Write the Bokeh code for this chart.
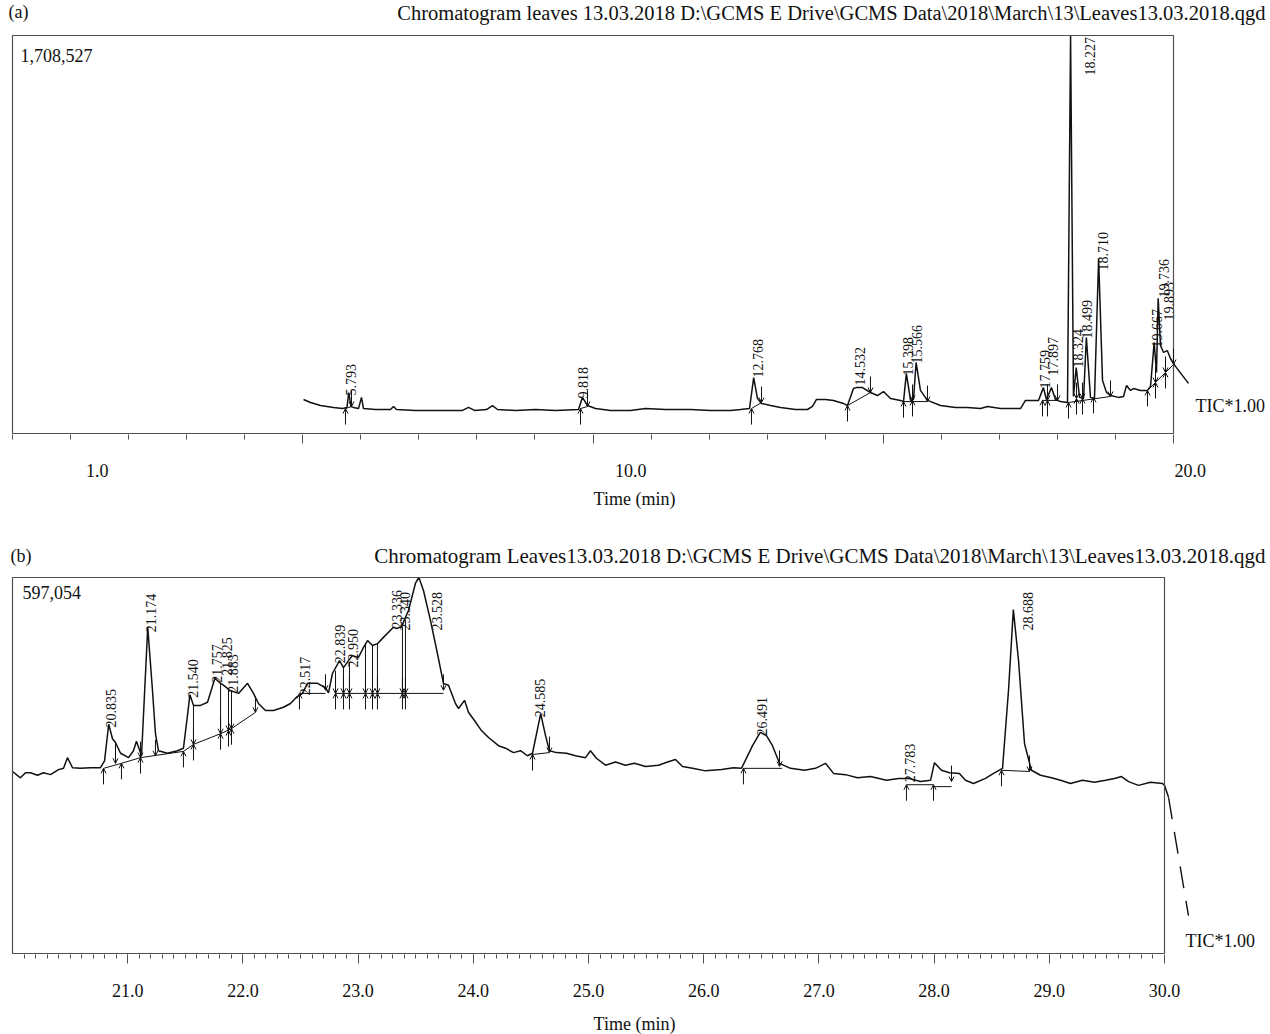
import math
from bokeh.plotting import figure
from bokeh.models import (ColumnDataSource, BoxAnnotation, Label, FixedTicker, LinearAxis,
                          Arrow, OpenHead, Range1d, PrintfTickFormatter, CustomJSTickFormatter)
from bokeh.layouts import column
from bokeh.embed import file_html
from bokeh.resources import INLINE
from bokeh.core.properties import value

# ---------------- Panel (a) data: time (min) / intensity (counts) ----------------
A_TITLE = r"Chromatogram leaves 13.03.2018 D:\GCMS E Drive\GCMS Data\2018\March\13\Leaves13.03.2018.qgd"
A_MAX = 1708527
A_X_END = 20.0
A_T = [5.013, 5.133, 5.306, 5.530, 5.685, 5.762, 5.793, 5.831, 5.874, 5.960,
       6.012, 6.046, 6.253, 6.512, 6.563, 6.615, 6.942, 7.373, 7.752, 7.855,
       7.959, 8.165, 8.269, 8.355, 8.665, 9.010, 9.354, 9.750, 9.818, 9.905,
       10.043, 10.302, 10.646, 10.904, 11.249, 11.680, 12.024, 12.369, 12.541, 12.696,
       12.768, 12.834, 12.903, 13.058, 13.230, 13.489, 13.695, 13.781, 13.850, 14.005,
       14.143, 14.315, 14.384, 14.487, 14.532, 14.642, 14.780, 14.901, 15.004, 15.125,
       15.297, 15.349, 15.398, 15.470, 15.521, 15.566, 15.641, 15.762, 15.986, 16.244,
       16.451, 16.675, 16.796, 17.020, 17.364, 17.450, 17.674, 17.759, 17.812, 17.897,
       17.967, 18.053, 18.174, 18.227, 18.277, 18.324, 18.381, 18.450, 18.499, 18.570,
       18.639, 18.710, 18.777, 18.846, 18.915, 19.053, 19.139, 19.191, 19.260, 19.311,
       19.432, 19.552, 19.604, 19.667, 19.707, 19.736, 19.776, 19.828, 19.893, 19.948,
       20.034, 20.258]
A_I = [146000, 133000, 120000, 112000, 107000, 112000, 176000, 116000, 112000, 107000,
       155000, 107000, 103000, 103000, 116000, 103000, 99000, 99000, 99000, 112000,
       99000, 103000, 120000, 103000, 99000, 103000, 99000, 103000, 155000, 120000,
       107000, 99000, 99000, 107000, 103000, 103000, 99000, 99000, 103000, 107000,
       240000, 150000, 129000, 120000, 112000, 103000, 103000, 116000, 146000, 146000,
       142000, 129000, 120000, 193000, 197000, 197000, 176000, 163000, 180000, 150000,
       142000, 137000, 258000, 142000, 146000, 305000, 185000, 142000, 120000, 112000,
       112000, 107000, 116000, 107000, 107000, 142000, 142000, 197000, 146000, 197000,
       146000, 137000, 133000, 1708527, 159000, 283000, 155000, 150000, 412000, 155000,
       150000, 751000, 228000, 176000, 163000, 155000, 159000, 206000, 185000, 193000,
       185000, 185000, 202000, 391000, 262000, 580000, 378000, 348000, 356000, 322000,
       288000, 215000]
A_LAB = ["5.793", "9.818", "12.768", "14.532", "15.398", "15.566", "17.759", "17.897",
         "18.227", "18.324", "18.499", "18.710", "19.667", "19.736", "19.893"]
A_LAB_T = [5.830, 9.836, 12.834, 14.591, 15.418, 15.590, 17.780, 17.916,
           18.553, 18.363, 18.518, 18.777, 19.724, 19.828, 19.931]
A_LAB_I = [163000, 150000, 240000, 206000, 249000, 300000, 193000, 249000,
           1537000, 283000, 408000, 700000, 369000, 584000, 485000]
A_UP_T = [5.736, 9.785, 12.730, 14.384, 15.349, 15.504, 17.743, 17.829, 18.191, 18.329,
          18.432, 18.622, 19.552, 19.690, 19.862]
A_UP_I = [107000, 107000, 107000, 120000, 137000, 142000, 142000, 142000, 133000, 150000,
          150000, 155000, 185000, 219000, 262000]
A_DN_T = [5.840, 9.905, 12.903, 14.780, 15.504, 15.762, 17.829, 18.002, 18.329, 18.432,
          18.915, 19.690, 19.862, 20.000]
A_DN_I = [116000, 116000, 133000, 176000, 142000, 137000, 142000, 142000, 150000, 150000,
          159000, 219000, 262000, 296000]
A_BL_T0 = [5.736, 9.785, 12.730, 14.384, 15.349, 17.743, 18.191, 19.552]
A_BL_I0 = [107000, 107000, 107000, 120000, 137000, 142000, 133000, 185000]
A_BL_T1 = [5.840, 9.905, 12.903, 14.780, 15.762, 18.002, 18.915, 20.000]
A_BL_I1 = [116000, 116000, 133000, 176000, 137000, 142000, 159000, 296000]
A_MAJOR_TICKS = [5, 10, 15, 20]
A_MINOR_TICKS = [0, 1, 2, 3, 4, 6, 7, 8, 9, 11, 12, 13, 14, 16, 17, 18, 19]
A_TICK_LABEL_POS = [1.46, 10.65, 20.29]
A_TICK_LABELS = ["1.0", "10.0", "20.0"]

# ---------------- Panel (b) data ----------------
B_TITLE = r"Chromatogram Leaves13.03.2018 D:\GCMS E Drive\GCMS Data\2018\March\13\Leaves13.03.2018.qgd"
B_MAX = 597054
B_X_START = 20.0
B_X_END = 30.0
B_T = [20.000, 20.069, 20.113, 20.156, 20.217, 20.269, 20.330, 20.399, 20.443, 20.477,
       20.521, 20.590, 20.677, 20.764, 20.799, 20.835, 20.868, 20.894, 20.938, 21.007,
       21.050, 21.076, 21.120, 21.174, 21.215, 21.241, 21.267, 21.345, 21.432, 21.484,
       21.519, 21.540, 21.571, 21.632, 21.693, 21.757, 21.806, 21.825, 21.866, 21.883,
       21.962, 22.040, 22.092, 22.135, 22.196, 22.266, 22.352, 22.413, 22.465, 22.517,
       22.561, 22.648, 22.717, 22.743, 22.778, 22.839, 22.873, 22.917, 22.950, 23.003,
       23.047, 23.082, 23.125, 23.168, 23.220, 23.307, 23.336, 23.377, 23.438, 23.498,
       23.528, 23.568, 23.628, 23.689, 23.741, 23.785, 23.845, 23.872, 23.924, 23.958,
       24.010, 24.071, 24.132, 24.219, 24.280, 24.349, 24.410, 24.470, 24.514, 24.585,
       24.627, 24.661, 24.722, 24.809, 24.887, 24.974, 25.017, 25.069, 25.148, 25.234,
       25.321, 25.399, 25.495, 25.608, 25.686, 25.755, 25.816, 25.903, 26.016, 26.155,
       26.259, 26.328, 26.424, 26.491, 26.545, 26.597, 26.658, 26.753, 26.875, 26.970,
       27.057, 27.127, 27.231, 27.335, 27.448, 27.587, 27.691, 27.783, 27.882, 27.969,
       28.003, 28.064, 28.134, 28.220, 28.272, 28.342, 28.446, 28.516, 28.594, 28.646,
       28.688, 28.733, 28.785, 28.845, 28.924, 29.019, 29.097, 29.184, 29.288, 29.392,
       29.488, 29.566, 29.627, 29.688, 29.774, 29.878, 29.983, 30.000, 30.035]
B_I = [289000, 279000, 287000, 287000, 283000, 287000, 284000, 292000, 294000, 311000,
       295000, 294000, 295000, 295000, 306000, 364000, 341000, 335000, 318000, 311000,
       322000, 337000, 314000, 518000, 418000, 349000, 322000, 318000, 322000, 326000,
       378000, 411000, 394000, 394000, 399000, 437000, 429000, 427000, 421000, 418000,
       413000, 429000, 413000, 397000, 386000, 386000, 391000, 397000, 407000, 413000,
       429000, 429000, 422000, 414000, 445000, 465000, 454000, 465000, 473000, 470000,
       486000, 497000, 489000, 492000, 502000, 518000, 516000, 519000, 545000, 588000,
       597054, 576000, 529000, 476000, 429000, 426000, 397000, 389000, 402000, 383000,
       370000, 354000, 343000, 330000, 326000, 319000, 322000, 314000, 318000, 381000,
       346000, 322000, 319000, 318000, 314000, 311000, 322000, 310000, 299000, 304000,
       299000, 302000, 297000, 299000, 304000, 308000, 297000, 294000, 290000, 292000,
       295000, 294000, 330000, 351000, 346000, 330000, 302000, 294000, 291000, 294000,
       302000, 286000, 284000, 279000, 281000, 275000, 278000, 278000, 273000, 275000,
       303000, 291000, 287000, 286000, 275000, 270000, 278000, 286000, 294000, 418000,
       546000, 465000, 333000, 291000, 283000, 279000, 275000, 270000, 275000, 272000,
       275000, 278000, 281000, 273000, 267000, 272000, 270000, 267000, 248000]
B_TAIL_T = [30.035, 30.208]
B_TAIL_I = [248000, 60000]
B_LAB = ["20.835", "21.174", "21.540", "21.757", "21.825", "21.883", "22.517", "22.839",
         "22.950", "23.336", "23.340", "23.528", "24.585", "26.491", "27.783", "28.688"]
B_LAB_T = [20.851, 21.198, 21.571, 21.771, 21.858, 21.910, 22.543, 22.847,
           22.960, 23.342, 23.411, 23.689, 24.583, 26.502, 27.795, 28.811]
B_LAB_I = [359000, 510000, 406000, 430000, 441000, 414000, 410000, 461000,
           454000, 516000, 513000, 513000, 375000, 346000, 272000, 513000]
B_UP_T = [20.790, 20.946, 21.111, 21.484, 21.571, 21.806, 21.875, 21.901, 22.491, 22.804,
          22.873, 22.925, 23.064, 23.125, 23.168, 23.385, 23.411, 24.514, 26.345, 27.760,
          27.995, 28.585]
B_UP_I = [294000, 302000, 311000, 321000, 332000, 349000, 354000, 357000, 413000, 413000,
          413000, 413000, 413000, 413000, 413000, 413000, 413000, 316000, 294000, 268000,
          268000, 291000]
B_DN_T = [20.894, 21.111, 21.241, 21.571, 21.806, 21.875, 21.901, 22.109, 22.717, 22.804,
          22.873, 22.925, 23.064, 23.125, 23.168, 23.385, 23.411, 23.741, 24.661, 26.658,
          28.151, 28.828]
B_DN_I = [302000, 311000, 314000, 332000, 349000, 354000, 357000, 383000, 418000, 413000,
          413000, 413000, 413000, 413000, 413000, 413000, 413000, 418000, 319000, 297000,
          273000, 289000]
B_BL_T0 = [20.790, 20.946, 21.111, 21.484, 21.571, 21.806, 21.901, 22.491, 22.804, 24.514,
           26.345, 27.760, 27.995, 28.585]
B_BL_I0 = [294000, 302000, 311000, 321000, 332000, 349000, 357000, 413000, 413000, 316000,
           294000, 268000, 265000, 291000]
B_BL_T1 = [20.946, 21.111, 21.484, 21.571, 21.806, 21.901, 22.109, 22.717, 23.741, 24.661,
           26.680, 27.995, 28.151, 28.828]
B_BL_I1 = [302000, 311000, 321000, 332000, 349000, 357000, 383000, 413000, 413000, 319000,
           294000, 268000, 265000, 289000]
B_DROP_T = [20.894, 21.571, 21.806, 21.875, 21.901, 22.804, 22.873, 22.925, 23.064, 23.125,
            23.168, 23.385, 23.411]
B_DROP_TOP = [335000, 394000, 429000, 421000, 418000, 449000, 454000, 463000, 490000, 489000,
              492000, 519000, 530000]
B_DROP_BOT = [302000, 332000, 349000, 354000, 357000, 413000, 413000, 413000, 413000, 413000,
              413000, 413000, 413000]
B_MAJOR_TICKS = [21, 22, 23, 24, 25, 26, 27, 28, 29, 30]
B_MINOR_TICKS = [round(20 + k * 0.1, 1) for k in range(1, 100)]

assert len(A_T) == len(A_I) and len(B_T) == len(B_I)

# ---------------- styling ----------------
FONT = "Liberation Serif"
INK = "#111111"
FRAME = "#505050"
TIC = "TIC*1.00"
W = 1268  # canvas / frame width


def base_fig(xr, yr, frame_h, bottom):
    p = figure(frame_width=W, frame_height=frame_h, x_range=Range1d(*xr), y_range=Range1d(*yr),
               output_backend="svg", toolbar_location=None, y_axis_location=None, title=None,
               min_border_left=0, min_border_right=0, min_border_top=0, min_border_bottom=bottom)
    p.outline_line_color = None
    p.grid.visible = False
    p.background_fill_color = "white"
    p.border_fill_color = "white"
    return p


def style_axis(ax):
    ax.axis_line_color = None
    ax.major_tick_line_color = FRAME
    ax.minor_tick_line_color = FRAME
    ax.major_tick_in = 0
    ax.minor_tick_in = 0
    ax.major_label_text_font = FONT
    ax.major_label_text_font_size = "18px"
    ax.major_label_text_color = INK
    ax.axis_label_text_font = FONT
    ax.axis_label_text_font_size = "18px"
    ax.axis_label_text_font_style = "normal"
    ax.axis_label_text_color = INK


def add_arrows(p, ts, vals, length, up):
    ys = [v - length for v in vals] if up else [v + length for v in vals]
    src = ColumnDataSource(dict(xs=ts, ys=ys, xe=ts, ye=vals))
    p.add_layout(Arrow(end=OpenHead(size=5, line_width=1, line_color=INK),
                       x_start="xs", y_start="ys", x_end="xe", y_end="ye", source=src,
                       line_width=1, line_color=INK))


def add_text(p, x, y, text, align="left", size="18px"):
    # screen units, measured from the frame's left / bottom edge
    p.add_layout(Label(x=x, y=y, x_units="screen", y_units="screen", text=text,
                       text_font=FONT, text_font_size=size, text_color=INK,
                       text_align=align, text_baseline="middle"))


def add_peaks(p, lt, li, lab, t, i, up_t, up_i, dn_t, dn_i, bl, arrow_len, lab_size):
    p.line(t, i, line_color=INK, line_width=1.5)
    p.segment(x0=bl[0], y0=bl[1], x1=bl[2], y1=bl[3], line_color=INK, line_width=1)
    add_arrows(p, up_t, up_i, arrow_len, True)
    add_arrows(p, dn_t, dn_i, arrow_len, False)
    p.text(x=lt, y=li, text=lab, angle=math.pi / 2, text_font=value(FONT),
           text_font_size=lab_size, text_align="left", text_baseline="middle", text_color=INK)


# ---------------- Panel (a) ----------------
# frame spans page x 0..W, y 0..434; data box: x 0..20 min at px 12..1173, y 0..max at px 433..35
a_ppm = 58.05
a_px = A_MAX / 398.0
pa = base_fig((-12 / a_ppm, (W - 12) / a_ppm), (-a_px, A_MAX + 35 * a_px), 434, 106)
pa.add_layout(BoxAnnotation(left=0, right=A_X_END, bottom=0, top=A_MAX, fill_color=None,
                            fill_alpha=0, line_color=FRAME, line_width=1.2, line_alpha=1))
add_peaks(pa, A_LAB_T, A_LAB_I, A_LAB, A_T, A_I, A_UP_T, A_UP_I, A_DN_T, A_DN_I,
          (A_BL_T0, A_BL_I0, A_BL_T1, A_BL_I1), 16 * a_px, "14px")

axa = pa.xaxis[0]
style_axis(axa)
axa.ticker = FixedTicker(ticks=A_MAJOR_TICKS, minor_ticks=A_MINOR_TICKS)
axa.formatter = CustomJSTickFormatter(code="return '';")
axa.major_label_standoff = 0
axa.major_tick_out = 9
axa.minor_tick_out = 5

axl = LinearAxis(ticker=FixedTicker(ticks=A_TICK_LABEL_POS, minor_ticks=[]),
                 formatter=CustomJSTickFormatter(
                     args=dict(pos=A_TICK_LABEL_POS, lab=A_TICK_LABELS),
                     code="const k = pos.findIndex(p => Math.abs(p - tick) < 1e-6); return k < 0 ? '' : lab[k];"),
                 axis_label="Time (min)")
style_axis(axl)
axl.major_tick_out = 0
axl.minor_tick_out = 0
axl.major_tick_line_color = None
axl.minor_tick_line_color = None
axl.major_label_standoff = 20
axl.axis_label_standoff = 9
pa.add_layout(axl, "below")

add_text(pa, 8, 423, "(a)")
add_text(pa, 1265, 422, A_TITLE, align="right", size="20.5px")
add_text(pa, 20, 379, f"{A_MAX:,}")
add_text(pa, 1195, 29, TIC)

# ---------------- Panel (b) ----------------
# frame spans page y 540..954; box: x 20..30 at px 12..1164, y 0..max at px 953..577
b_ppm = 115.2
b_px = B_MAX / 376.0
pb = base_fig((B_X_START - 12 / b_ppm, B_X_START + (W - 12) / b_ppm),
              (-b_px, B_MAX + 37 * b_px), 414, 79)
pb.add_layout(BoxAnnotation(left=B_X_START, right=B_X_END, bottom=0, top=B_MAX, fill_color=None,
                            fill_alpha=0, line_color=FRAME, line_width=1.2, line_alpha=1))
pb.line(B_TAIL_T, B_TAIL_I, line_color=INK, line_width=1.4, line_dash="22 13")
pb.segment(x0=B_DROP_T, y0=B_DROP_BOT, x1=B_DROP_T, y1=B_DROP_TOP, line_color=INK, line_width=1)
add_peaks(pb, B_LAB_T, B_LAB_I, B_LAB, B_T, B_I, B_UP_T, B_UP_I, B_DN_T, B_DN_I,
          (B_BL_T0, B_BL_I0, B_BL_T1, B_BL_I1), 16 * b_px, "14px")

axb = pb.xaxis[0]
style_axis(axb)
axb.ticker = FixedTicker(ticks=B_MAJOR_TICKS, minor_ticks=B_MINOR_TICKS)
axb.formatter = PrintfTickFormatter(format="%.1f")
axb.axis_label = "Time (min)"
axb.major_tick_out = 9
axb.minor_tick_out = 4
axb.major_label_standoff = 20
axb.axis_label_standoff = 14

add_text(pb, 10, 399, "(b)")
add_text(pb, 1265, 399, B_TITLE, align="right", size="21px")
add_text(pb, 22, 362, f"{B_MAX:,}")
add_text(pb, 1185, 14, TIC)

layout = column(pa, pb, spacing=0)
open("out.html", "w").write(file_html(layout, INLINE))
